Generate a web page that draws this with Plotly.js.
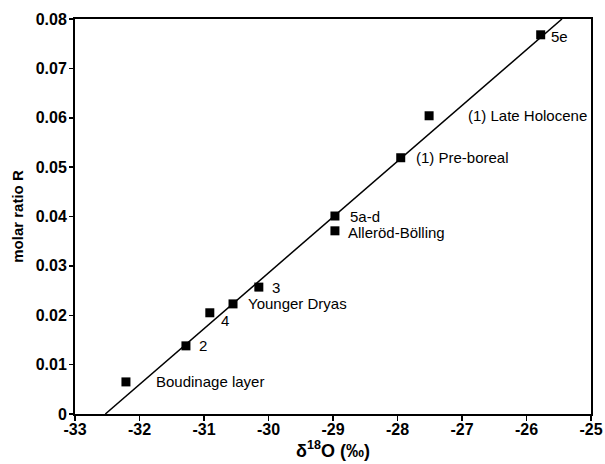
<!DOCTYPE html>
<html><head><meta charset="utf-8">
<script src="https://cdn.plot.ly/plotly-3.0.1.min.js"></script>
<style>html,body{margin:0;padding:0;background:#fff}#c{width:605px;height:464px}
#c .xtick text, #c .ytick text {font-weight:700 !important}</style>
</head><body><div id="c"></div>
<script>
const labels = ["Boudinage layer","2","4","Younger Dryas","3","5a-d","Alleröd-Bölling","(1) Pre-boreal","(1) Late Holocene","5e"];
const d18O = [-32.21,-31.28,-30.91,-30.55,-30.15,-28.97,-28.97,-27.95,-27.51,-25.78];
const ratioR = [0.0065,0.0138,0.0205,0.0223,0.0257,0.0401,0.0371,0.0519,0.0604,0.0768];
const fitX = [-32.53,-25.45];
const fitY = [0,0.08];
const xTicks = [-33,-32,-31,-30,-29,-28,-27,-26,-25];
const yTicks = [0,0.01,0.02,0.03,0.04,0.05,0.06,0.07,0.08];

const labelShift = [[28,0],[11,0],[9,-8],[13,0],[11,0],[13,0],[11,-2],[13,0],[37,0],[8,-2]];

const FONT = "'Liberation Sans',Arial,sans-serif";

const traces = [
  {x: fitX, y: fitY, mode: 'lines', line: {color: '#000', width: 1.5}, hoverinfo: 'skip'},
  {x: d18O, y: ratioR, mode: 'markers', marker: {symbol: 'square', size: 9, color: '#000'}}
];

const annotations = labels.map((t,i) => ({
  x: d18O[i], y: ratioR[i], text: t, showarrow: false,
  xanchor: 'left', yanchor: 'middle', xshift: labelShift[i][0], yshift: labelShift[i][1],
  font: {family: FONT, size: 15, color: '#000'}
}));

const layout = {
  width: 605, height: 464,
  margin: {l: 75, r: 14, t: 19, b: 50},
  showlegend: false,
  paper_bgcolor: '#fff', plot_bgcolor: '#fff',
  font: {family: FONT, color: '#000'},
  xaxis: {
    range: [-33,-25], tickvals: xTicks, ticktext: xTicks.map(v => '-' + Math.abs(v)),
    showgrid: false, zeroline: false,
    showline: true, linecolor: '#000', linewidth: 2, mirror: true,
    ticks: 'outside', ticklen: 5, tickwidth: 1.5, tickcolor: '#000',
    ticklabelstandoff: -5,
    tickfont: {family: FONT, size: 16, weight: 700},
    title: {text: 'δ<sup>18</sup>O (‰)', font: {family: FONT, size: 18, weight: 'bold'}, standoff: 0}
  },
  yaxis: {
    range: [0,0.08], tickvals: yTicks, ticktext: yTicks.map(String),
    showgrid: false, zeroline: false,
    showline: true, linecolor: '#000', linewidth: 2, mirror: true,
    ticks: 'outside', ticklen: 4, tickwidth: 1.5, tickcolor: '#000',
    ticklabelstandoff: -1,
    tickfont: {family: FONT, size: 16, weight: 700},
    title: {text: 'molar ratio R', font: {family: FONT, size: 15, weight: 'bold'}, standoff: 8}
  },
  annotations: annotations
};
Plotly.newPlot('c', traces, layout, {displayModeBar: false, staticPlot: true});
</script></body></html>
